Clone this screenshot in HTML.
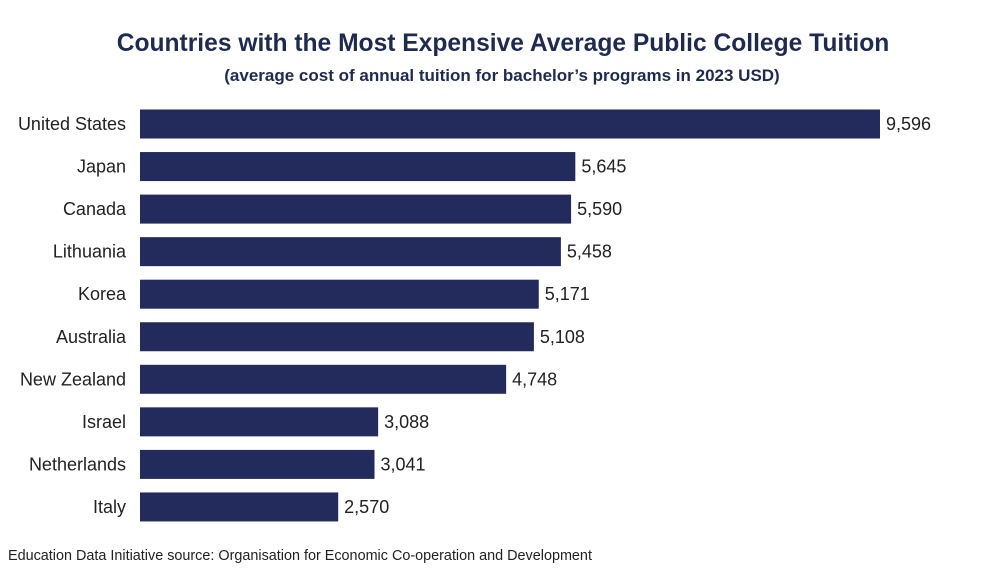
<!DOCTYPE html>
<html>
<head>
<meta charset="utf-8">
<style>
  html, body { margin:0; padding:0; background:#fff; }
  body { width:1000px; height:568px; overflow:hidden; font-family:"Liberation Sans", sans-serif; }
  svg text { font-family:"Liberation Sans", sans-serif; }
</style>
</head>
<body>
<svg id="chart" width="1000" height="568">
  <text x="503" y="51" text-anchor="middle" font-size="24.6" font-weight="bold" fill="#1f2a4f">Countries with the Most Expensive Average Public College Tuition</text>
  <text x="502" y="81" text-anchor="middle" font-size="17" font-weight="bold" fill="#1f2a4f">(average cost of annual tuition for bachelor’s programs in 2023 USD)</text>
  <g id="bars"></g>
  <text x="8" y="560" font-size="14.4" fill="#222">Education Data Initiative source: Organisation for Economic Co-operation and Development</text>
</svg>
<script>
const categories = ["United States","Japan","Canada","Lithuania","Korea","Australia","New Zealand","Israel","Netherlands","Italy"];
const values = [9596,5645,5590,5458,5171,5108,4748,3088,3041,2570];
const valueLabels = ["9,596","5,645","5,590","5,458","5,171","5,108","4,748","3,088","3,041","2,570"];

const x0 = 140, xScale = 740 / 9596;
const firstCenter = 124, step = 42.55, barH = 29;
function xPos(v) { return x0 + v * xScale; }
function yPos(i) { return firstCenter + i * step; }

const g = document.getElementById('bars');
const NS = 'http://www.w3.org/2000/svg';
categories.forEach((c, i) => {
  const yc = yPos(i);
  const r = document.createElementNS(NS, 'rect');
  r.setAttribute('x', x0);
  r.setAttribute('y', yc - barH / 2);
  r.setAttribute('width', xPos(values[i]) - x0);
  r.setAttribute('height', barH);
  r.setAttribute('fill', '#222b5b');
  
  
  g.appendChild(r);

  const l = document.createElementNS(NS, 'text');
  l.setAttribute('x', 126);
  l.setAttribute('y', yc + 6);
  l.setAttribute('text-anchor', 'end');
  l.setAttribute('font-size', '18');
  l.setAttribute('fill', '#222');
  l.textContent = c;
  
  
  g.appendChild(l);

  const v = document.createElementNS(NS, 'text');
  v.setAttribute('x', xPos(values[i]) + 6);
  v.setAttribute('y', yc + 6);
  v.setAttribute('font-size', '18');
  v.setAttribute('fill', '#222');
  v.textContent = valueLabels[i];
  
  
  g.appendChild(v);
});
</script>
</body>
</html>
